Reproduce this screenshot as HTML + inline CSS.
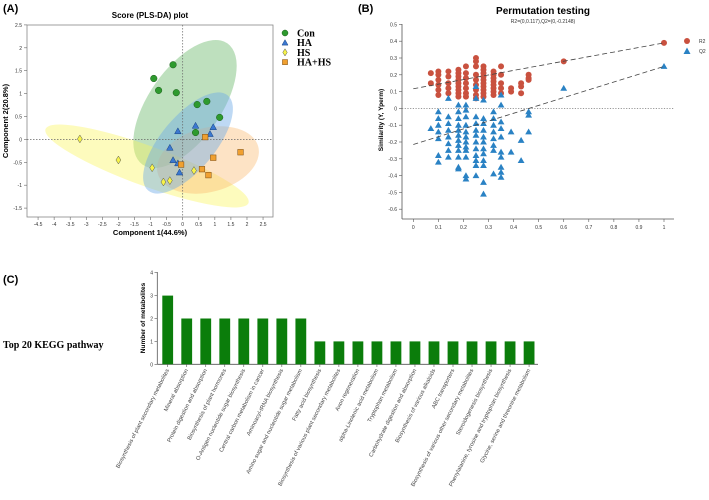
<!DOCTYPE html>
<html><head><meta charset="utf-8"><style>
html,body{margin:0;padding:0;background:#fff;}
svg{display:block;font-family:"Liberation Sans",sans-serif;}
</style></head><body>
<svg id="root" width="709" height="500" viewBox="0 0 709 500" xmlns="http://www.w3.org/2000/svg">
<g id="pa"></g>
<g id="pb"></g>
<g id="pc"></g>
</svg>
<script>
// ---------- Panel A data ----------
const conX=[-0.9,-0.75,-0.3,-0.2,0.45,0.75,1.15,0.4];
const conY=[1.33,1.07,1.63,1.02,0.76,0.83,0.48,0.15];
const haX=[-0.15,0.4,0.95,0.85,-0.4,-0.3,-0.15,-0.1];
const haY=[0.18,0.3,0.27,0.12,-0.18,-0.45,-0.52,-0.72];
const hsX=[-3.2,-2,-0.95,-0.6,-0.4,0.35];
const hsY=[0.01,-0.45,-0.62,-0.93,-0.9,-0.68];
const hahsX=[0.7,-0.05,0.95,1.8,0.6,0.8];
const hahsY=[0.05,-0.55,-0.4,-0.28,-0.65,-0.78];
const aXTicks=[-4.5,-4,-3.5,-3,-2.5,-2,-1.5,-1,-0.5,0,0.5,1,1.5,2,2.5];
const aYTicks=[-1.5,-1,-0.5,0,0.5,1,1.5,2,2.5];
// ---------- Panel B data ----------
const permCols=[0.07,0.1,0.14,0.18,0.21,0.25,0.28,0.32,0.35,0.39,0.43,0.46,0.6,1];
const r2Vals=[[0.21,0.15],[0.22,0.2,0.17,0.14,0.11,0.08],[0.22,0.19,0.15,0.12,0.09],[0.23,0.21,0.19,0.17,0.15,0.13,0.11,0.09,0.07],[0.25,0.21,0.18,0.15,0.12,0.09,0.07],[0.30,0.28,0.25,0.2,0.17,0.14,0.11,0.08,0.06],[0.25,0.23,0.21,0.19,0.17,0.15,0.13,0.11,0.09,0.07],[0.22,0.2,0.18,0.16,0.14,0.12,0.1,0.08],[0.25,0.2,0.15,0.12,0.09],[0.12,0.1],[0.15,0.13,0.09],[0.2,0.18,0.17],[0.28],[0.39]];
const q2Vals=[[-0.12],[-0.02,-0.06,-0.1,-0.14,-0.18,-0.28,-0.32],[0.06,-0.05,-0.09,-0.13,-0.17,-0.21,-0.25,-0.29],[0.02,-0.02,-0.06,-0.1,-0.13,-0.16,-0.19,-0.22,-0.25,-0.29,-0.35,-0.36],[0.02,-0.01,-0.05,-0.1,-0.14,-0.17,-0.2,-0.23,-0.25,-0.29,-0.4,-0.42],[0.13,0.06,-0.05,-0.09,-0.13,-0.16,-0.2,-0.24,-0.28,-0.31,-0.34,-0.4],[0.05,-0.06,-0.09,-0.13,-0.17,-0.2,-0.24,-0.27,-0.31,-0.34,-0.44,-0.51],[-0.02,-0.06,-0.1,-0.14,-0.18,-0.22,-0.25,-0.39],[0.08,0.02,-0.08,-0.12,-0.17,-0.26,-0.29,-0.35,-0.38,-0.41],[-0.14,-0.26],[-0.19,-0.31],[-0.02,-0.04,-0.14],[0.12],[0.25]];
const r2Line=[0.117,0.39];
const q2Line=[-0.2148,0.25];
const bXTicks=[0,0.1,0.2,0.3,0.4,0.5,0.6,0.7,0.8,0.9,1];
const bYTicks=[-0.6,-0.5,-0.4,-0.3,-0.2,-0.1,0,0.1,0.2,0.3,0.4,0.5];
// ---------- Panel C data ----------
const pathways=["Biosynthesis of plant secondary metabolites","Mineral absorption","Protein digestion and absorption","Biosynthesis of plant hormones","O-Antigen nucleotide sugar biosynthesis","Central carbon metabolism in cancer","Aminoacyl-tRNA biosynthesis","Amino sugar and nucleotide sugar metabolism","Fatty acid biosynthesis","Biosynthesis of various plant secondary metabolites","Axon regeneration","alpha-Linolenic acid metabolism","Tryptophan metabolism","Carbohydrate digestion and absorption","Biosynthesis of various alkaloids","ABC transporters","Biosynthesis of various other secondary metabolites","Steroidogenesis biosynthesis","Phenylalanine, tyrosine and tryptophan biosynthesis","Glycine, serine and threonine metabolism"];
const counts=[3,2,2,2,2,2,2,2,1,1,1,1,1,1,1,1,1,1,1,1];
const cYTicks=[0,1,2,3,4];

const NS="http://www.w3.org/2000/svg";
function mk(parent,tag,attrs,text){const e=document.createElementNS(NS,tag);for(const k in attrs)e.setAttribute(k,attrs[k]);if(text!==undefined)e.textContent=text;parent.appendChild(e);return e;}

// ===== Panel A =====
const A=document.getElementById('pa');
const ax=v=>182.7+v*32.14, ay=v=>139.4-v*45.8;
let t;
t=mk(A,'text',{x:3,y:12,'font-size':11,'font-weight':'bold'},'(A)');

t=mk(A,'text',{x:150,y:18,'font-size':8,'font-weight':'bold','text-anchor':'middle'},'Score (PLS-DA) plot');

t=mk(A,'rect',{x:27,y:25,width:246,height:192,fill:'#fff',stroke:'#888','stroke-width':0.8});

const ells=[['con-ellipse',185,104,74,36,-55,'rgba(70,165,70,0.35)'],['hs-ellipse',147,166,108,20,20,'rgba(250,245,90,0.4)'],['hahs-ellipse',208,160,52,32,-15,'rgba(250,185,110,0.4)'],['ha-ellipse',188,143,62,27,-50,'rgba(110,170,230,0.45)']];
ells.forEach(e=>{t=mk(A,'ellipse',{cx:e[1],cy:e[2],rx:e[3],ry:e[4],transform:`rotate(${e[5]} ${e[1]} ${e[2]})`,fill:e[6]});
});
mk(A,'line',{x1:27,x2:273,y1:ay(0),y2:ay(0),stroke:'#666','stroke-width':0.7,'stroke-dasharray':'1.5,1.5'});
mk(A,'line',{x1:ax(0),x2:ax(0),y1:25,y2:217,stroke:'#666','stroke-width':0.7,'stroke-dasharray':'1.5,1.5'});
aXTicks.forEach(v=>{mk(A,'line',{x1:ax(v),x2:ax(v),y1:217,y2:220,stroke:'#666','stroke-width':0.6});
t=mk(A,'text',{x:ax(v),y:226,'font-size':5,'text-anchor':'middle',fill:'#333'},String(v));
});
aYTicks.forEach(v=>{mk(A,'line',{x1:24,x2:27,y1:ay(v),y2:ay(v),stroke:'#666','stroke-width':0.6});
t=mk(A,'text',{x:22,y:ay(v)+2,'font-size':5,'text-anchor':'end',fill:'#333'},String(v));
});
t=mk(A,'text',{x:150,y:235,'font-size':7.5,'font-weight':'bold','text-anchor':'middle'},'Component 1(44.6%)');

t=mk(A,'text',{x:0,y:0,'font-size':7.5,'font-weight':'bold','text-anchor':'middle',transform:'translate(8,121) rotate(-90)'},'Component 2(20.8%)');

function marker(g,shape,x,y,fill,s){
 if(shape==='c')return mk(g,'circle',{cx:x,cy:y,r:s,fill:fill,stroke:'#1a5a1a','stroke-width':0.5});
 if(shape==='t')return mk(g,'polygon',{points:`${x},${y-s} ${x-s},${y+s*0.8} ${x+s},${y+s*0.8}`,fill:fill,stroke:'#123f80','stroke-width':0.5});
 if(shape==='d')return mk(g,'polygon',{points:`${x},${y-s*1.2} ${x+s*0.75},${y} ${x},${y+s*1.2} ${x-s*0.75},${y}`,fill:fill,stroke:'#555','stroke-width':0.5});
 return mk(g,'rect',{x:x-s*0.85,y:y-s*0.85,width:s*1.7,height:s*1.7,fill:fill,stroke:'#7a4a10','stroke-width':0.5});
}
const groups=[['con',conX,conY,'c','#2e9a2e'],['ha',haX,haY,'t','#3b78d0'],['hs',hsX,hsY,'d','#f6f34a'],['hahs',hahsX,hahsY,'s','#f0a030']];
groups.forEach(g=>{g[1].forEach((xv,i)=>{t=marker(A,g[3],ax(xv),ay(g[2][i]),g[4],3.3);
});});
const legA=[['Con','c','#2e9a2e'],['HA','t','#3b78d0'],['HS','d','#f6f34a'],['HA+HS','s','#f0a030']];
legA.forEach((l,i)=>{const y=33+i*9.7;t=marker(A,l[1],285,y,l[2],3);

t=mk(A,'text',{x:297,y:y+3.5,'font-size':10,'font-weight':'bold','font-family':'Liberation Serif, serif'},l[0]);
});

// ===== Panel B =====
const B=document.getElementById('pb');
const bx=v=>413.3+v*250.7, by=v=>108.4-v*168;
t=mk(B,'text',{x:358,y:12,'font-size':11,'font-weight':'bold'},'(B)');

t=mk(B,'text',{x:543,y:14,'font-size':10,'font-weight':'bold','text-anchor':'middle'},'Permutation testing');

t=mk(B,'text',{x:543,y:23,'font-size':5,'text-anchor':'middle',fill:'#333'},'R2=(0,0.117),Q2=(0,-0.2148)');

mk(B,'line',{x1:402,x2:402,y1:24,y2:219,stroke:'#555','stroke-width':0.8});
mk(B,'line',{x1:402,x2:674,y1:219,y2:219,stroke:'#555','stroke-width':0.8});
bYTicks.forEach(v=>{mk(B,'line',{x1:399,x2:402,y1:by(v),y2:by(v),stroke:'#555','stroke-width':0.6});
t=mk(B,'text',{x:397,y:by(v)+2,'font-size':5,'text-anchor':'end',fill:'#333'},String(v));
});
bXTicks.forEach(v=>{mk(B,'line',{x1:bx(v),x2:bx(v),y1:219,y2:222,stroke:'#555','stroke-width':0.6});
t=mk(B,'text',{x:bx(v),y:229,'font-size':5,'text-anchor':'middle',fill:'#333'},String(v));
});
t=mk(B,'text',{x:0,y:0,'font-size':6.5,'font-weight':'bold','text-anchor':'middle',transform:'translate(383,120) rotate(-90)'},'Similarity (Y, Yperm)');

mk(B,'line',{x1:402,x2:674,y1:by(0),y2:by(0),stroke:'#777','stroke-width':0.7,'stroke-dasharray':'1.2,1.5'});
permCols.forEach((c,i)=>{r2Vals[i].forEach(v=>{t=mk(B,'circle',{cx:bx(c),cy:by(v),r:3,fill:'#c9513f'});
});});
permCols.forEach((c,i)=>{q2Vals[i].forEach(v=>{const x=bx(c),y=by(v);t=mk(B,'polygon',{points:`${x},${y-3.4} ${x-3.4},${y+2.5} ${x+3.4},${y+2.5}`,fill:'#2a82c4'});
});});
t=mk(B,'line',{x1:bx(0),x2:bx(1),y1:by(r2Line[0]),y2:by(r2Line[1]),stroke:'#444','stroke-width':0.8,'stroke-dasharray':'5,3'});

t=mk(B,'line',{x1:bx(0),x2:bx(1),y1:by(q2Line[0]),y2:by(q2Line[1]),stroke:'#444','stroke-width':0.8,'stroke-dasharray':'5,3'});

t=mk(B,'circle',{cx:687,cy:41,r:3,fill:'#c9513f'});
t=mk(B,'text',{x:699,y:43,'font-size':5,fill:'#333'},'R2');
t=mk(B,'polygon',{points:'687,47.5 683.5,54 690.5,54',fill:'#2a82c4'});
t=mk(B,'text',{x:699,y:53,'font-size':5,fill:'#333'},'Q2');

// ===== Panel C =====
const C=document.getElementById('pc');
const cx0=167.7, cstep=19.02, cy=v=>364.3-v*22.9;
t=mk(C,'text',{x:3,y:283,'font-size':11,'font-weight':'bold'},'(C)');

t=mk(C,'text',{x:3,y:348,'font-size':10,'font-weight':'bold','font-family':'Liberation Serif, serif'},'Top 20 KEGG pathway');

mk(C,'line',{x1:157.3,x2:157.3,y1:272,y2:364.3,stroke:'#555','stroke-width':0.8});
mk(C,'line',{x1:157.3,x2:538,y1:364.3,y2:364.3,stroke:'#555','stroke-width':0.8});
cYTicks.forEach(v=>{mk(C,'line',{x1:154.5,x2:157.3,y1:cy(v),y2:cy(v),stroke:'#555','stroke-width':0.6});
t=mk(C,'text',{x:153,y:cy(v)+2,'font-size':5,'text-anchor':'end',fill:'#333'},String(v));
});
t=mk(C,'text',{x:0,y:0,'font-size':6.5,'font-weight':'bold','text-anchor':'middle',transform:'translate(145,318) rotate(-90)'},'Number of metabolites');

pathways.forEach((p,i)=>{const x=cx0+i*cstep;
 t=mk(C,'rect',{x:x-5.4,y:cy(counts[i]),width:10.8,height:cy(0)-cy(counts[i]),fill:'#0b7d0b'});
 
 mk(C,'line',{x1:x,x2:x,y1:364.3,y2:367,stroke:'#555','stroke-width':0.6});
 t=mk(C,'text',{x:0,y:0,'font-size':5.7,'text-anchor':'end',fill:'#444',transform:`translate(${x+1.5},370) rotate(-63)`},p);
 
});
</script>
</body></html>
